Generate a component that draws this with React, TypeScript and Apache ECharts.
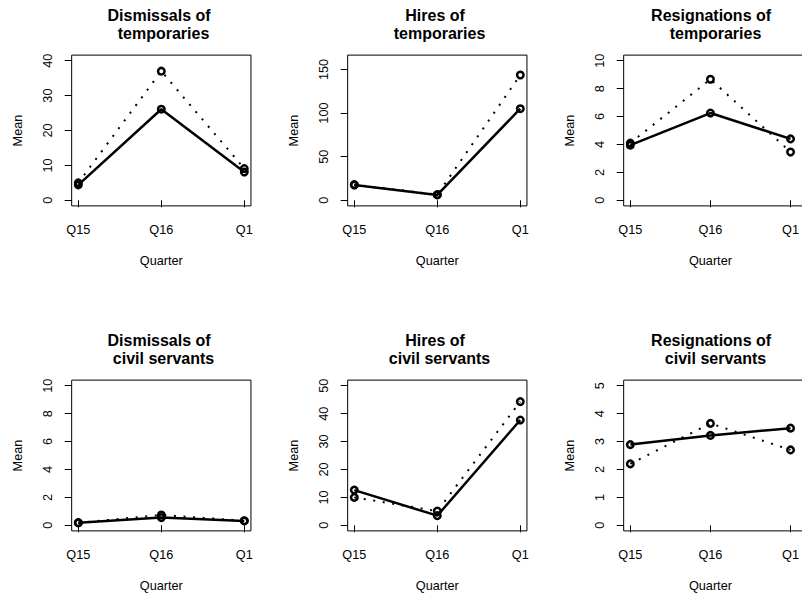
import React, { useEffect, useRef } from 'react';
import * as echarts from 'echarts';

// ---- data ----
const quarters = ['Q15', 'Q16', 'Q1'];

const titles = [
  'Dismissals of \n temporaries',
  'Hires of \n temporaries',
  'Resignations of \n temporaries',
  'Dismissals of \n civil servants',
  'Hires of \n civil servants',
  'Resignations of \n civil servants',
];

const dismissTempSolid = [4.4, 26.1, 8.1];
const dismissTempDotted = [5.0, 37.0, 9.1];
const hiresTempSolid = [17.5, 6.1, 105];
const hiresTempDotted = [18, 6.5, 143.6];
const resignTempSolid = [3.95, 6.25, 4.4];
const resignTempDotted = [4.1, 8.67, 3.46];
const dismissCivilSolid = [0.19, 0.55, 0.31];
const dismissCivilDotted = [0.18, 0.74, 0.33];
const hiresCivilSolid = [12.6, 3.45, 37.7];
const hiresCivilDotted = [10.0, 5.1, 44.3];
const resignCivilSolid = [2.89, 3.22, 3.48];
const resignCivilDotted = [2.2, 3.65, 2.7];

const yLimits = [40, 160, 10, 10, 50, 5];
const yTicks = [
  [0, 10, 20, 30, 40],
  [0, 50, 100, 150],
  [0, 2, 4, 6, 8, 10],
  [0, 2, 4, 6, 8, 10],
  [0, 10, 20, 30, 40, 50],
  [0, 1, 2, 3, 4, 5],
];

const FONT = '"Liberation Sans", Arial, Helvetica, sans-serif';

export default function App() {
  const ref = useRef<HTMLDivElement>(null);

  useEffect(() => {
    if (!ref.current) return;
    const chart = echarts.init(ref.current, null, { renderer: 'svg' });

    const solids = [dismissTempSolid, hiresTempSolid, resignTempSolid, dismissCivilSolid, hiresCivilSolid, resignCivilSolid];
    const dotteds = [dismissTempDotted, hiresTempDotted, resignTempDotted, dismissCivilDotted, hiresCivilDotted, resignCivilDotted];

    const GX0 = 78.3, GY0 = 60.7, GW = 166, GH = 139.6, DX = 276, DY = 325;
    const XEXT = GW * 0.04; // 4% per side of x range (2 units)
    const YEXT = GH * 0.04;
    const fs = 12.7;

    const grids: any[] = [];
    const xAxes: any[] = [];
    const yAxes: any[] = [];
    const series: any[] = [];
    const titleOpts: any[] = [];
    const boxes: any[] = [];

    for (let i = 0; i < 6; i++) {
      const r = Math.floor(i / 3);
      const c = i % 3;
      const left = GX0 + DX * c;
      const top = GY0 + DY * r;
      grids.push({ left, top, width: GW, height: GH, containLabel: false });
      boxes.push({
        type: 'rect',
        silent: true,
        shape: { x: left - XEXT, y: top - YEXT, width: GW + 2 * XEXT, height: GH + 2 * YEXT },
        style: { fill: 'none', stroke: '#000', lineWidth: 1 },
        z: 10,
      });
      titleOpts.push({
        text: titles[i],
        left: left + GW / 2,
        top: 6 + DY * r,
        textAlign: 'center',
        padding: 0,
        textStyle: { fontFamily: FONT, fontSize: 16, fontWeight: 'bold', color: '#000', lineHeight: 18 },
      });
      xAxes.push({
        type: 'category',
        gridIndex: i,
        data: quarters,
        boundaryGap: false,
        offset: YEXT,
        axisLine: { show: false },
        axisTick: { show: true, interval: 0, length: 7, lineStyle: { color: '#000', width: 1 } },
        axisLabel: { interval: 0, color: '#000', fontSize: fs, fontFamily: FONT, margin: 18 },
        splitLine: { show: false },
        name: 'Quarter',
        nameLocation: 'middle',
        nameGap: 49,
        nameTextStyle: { color: '#000', fontSize: fs, fontFamily: FONT },
      });
      yAxes.push({
        type: 'value',
        gridIndex: i,
        min: 0,
        max: yLimits[i],
        offset: XEXT,
        axisLine: { show: false },
        axisTick: { show: true, length: 7, customValues: yTicks[i], lineStyle: { color: '#000', width: 1 } },
        axisLabel: { rotate: 90, customValues: yTicks[i], color: '#000', fontSize: fs, fontFamily: FONT, margin: 17 },
        splitLine: { show: false },
        name: 'Mean',
        nameLocation: 'middle',
        nameGap: 47,
        nameTextStyle: { color: '#000', fontSize: fs, fontFamily: FONT },
      });
      series.push({
        type: 'line',
        name: 'dotted' + i,
        xAxisIndex: i,
        yAxisIndex: i,
        data: dotteds[i],
        symbol: 'circle',
        symbolSize: 6.5,
        clip: false,
        silent: true,
        itemStyle: { color: 'rgba(0,0,0,0)', borderColor: '#000', borderWidth: 2.5 },
        lineStyle: { color: '#000', width: 2, type: [2, 7.6] },
        z: 3,
      });
      series.push({
        type: 'line',
        name: 'solid' + i,
        xAxisIndex: i,
        yAxisIndex: i,
        data: solids[i],
        symbol: 'circle',
        symbolSize: 6.5,
        clip: false,
        silent: true,
        itemStyle: { color: 'rgba(0,0,0,0)', borderColor: '#000', borderWidth: 2.5 },
        lineStyle: { color: '#000', width: 2.5 },
        z: 4,
      });
    }

    chart.setOption({
      animation: false,
      backgroundColor: '#fff',
      title: titleOpts,
      grid: grids,
      xAxis: xAxes,
      yAxis: yAxes,
      series,
      graphic: boxes,
    });

    return () => chart.dispose();
  }, []);

  return (
    <div
      ref={ref}
      style={{ position: 'absolute', left: 0, top: 0, width: 802, height: 595, background: '#fff' }}
    />
  );
}
